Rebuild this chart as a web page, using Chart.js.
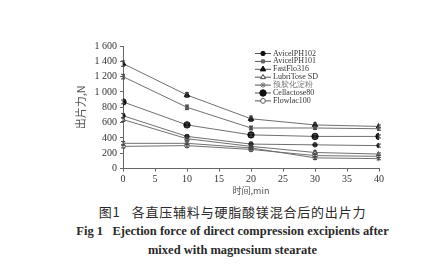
<!DOCTYPE html>
<html><head><meta charset="utf-8">
<script src="https://cdn.jsdelivr.net/npm/chart.js@4.4.0/dist/chart.umd.min.js"></script>
<style>
html,body{margin:0;padding:0;background:#fff;}
#wrap{position:relative;width:441px;height:199px;}
.cap{position:absolute;left:24px;right:0;text-align:center;color:#2a2a2a;white-space:nowrap;}
#c1{top:202px;font:13px "Noto Sans CJK SC";letter-spacing:0.8px;}
#c2{top:224px;font:bold 12.5px "Liberation Serif";}
#c3{top:243px;font:bold 12.5px "Liberation Serif";}
</style></head>
<body>
<div id="wrap"><canvas id="chart"></canvas></div>
<div class="cap" id="c1">图1&nbsp;&nbsp;&nbsp;各直压辅料与硬脂酸镁混合后的出片力</div>
<div class="cap" id="c2">Fig 1&nbsp;&nbsp;&nbsp;Ejection force of direct compression excipients after</div>
<div class="cap" id="c3">mixed with magnesium stearate</div>
<script>
const times=[0,10,20,30,40];
const names=["AvicelPH102","AvicelPH101","FastFlo316","LubriTose SD","预胶化淀粉","Cellactose80","Flowlac100"];
const avicel102=[690,420,320,310,300];
const avicel101=[1200,800,530,530,520];
const fastflo=[1370,960,650,570,550];
const lubritose=[640,390,290,210,190];
const starch=[330,330,270,140,130];
const cellactose=[870,570,440,420,420];
const flowlac=[290,300,250,170,160];
const errs=[[30,25,25,20,20],[30,30,25,20,20],[35,30,35,25,20],[25,20,20,20,15],[25,20,20,20,15],[25,25,20,25,20],[20,20,20,15,15]];

const series=[avicel102,avicel101,fastflo,lubritose,starch,cellactose,flowlac];
const marks=[
 {s:"circle",r:2.2,bg:"#111",bc:"#111"},
 {s:"rect",r:2.2,bg:"#666",bc:"#666"},
 {s:"triangle",r:3.2,bg:"#111",bc:"#111"},
 {s:"triangle",r:2.8,bg:"#fff",bc:"#444"},
 {s:"star",r:2.8,bg:"#777",bc:"#777"},
 {s:"circle",r:3.2,bg:"#111",bc:"#111"},
 {s:"circle",r:2.4,bg:"#fff",bc:"#555"}
];
const datasets=series.map((d,i)=>({
 label:names[i],
 data:d.map((v,j)=>({x:times[j],y:v})),
 errs:errs[i],
 borderColor:"#707070",borderWidth:1,
 pointStyle:marks[i].s,pointRadius:marks[i].r,
 pointBackgroundColor:marks[i].bg,pointBorderColor:marks[i].bc,pointBorderWidth:1,
 tension:0
}));

const errorBars={id:"errorBars",afterDatasetsDraw(chart){
 const ctx=chart.ctx,y=chart.scales.y;
 ctx.save();ctx.strokeStyle="#444";ctx.lineWidth=1;
 chart.data.datasets.forEach((ds,i)=>{
  chart.getDatasetMeta(i).data.forEach((pt,j)=>{
   const v=ds.data[j].y,e=ds.errs[j];
   const t=y.getPixelForValue(v+e),b=y.getPixelForValue(v-e);
   ctx.beginPath();ctx.moveTo(pt.x,t);ctx.lineTo(pt.x,b);
   ctx.moveTo(pt.x-2,t);ctx.lineTo(pt.x+2,t);
   ctx.moveTo(pt.x-2,b);ctx.lineTo(pt.x+2,b);ctx.stroke();
  });
 });
 ctx.restore();
}};

const insideLegend={id:"insideLegend",afterDraw(chart){
 const ctx=chart.ctx,a=chart.chartArea;
 const x0=a.left+132,x1=a.left+148;
 ctx.save();ctx.font="8px 'Liberation Serif'";ctx.textBaseline="middle";
 chart.data.datasets.forEach((ds,i)=>{
  const yy=a.top+7.5+i*7.9;
  ctx.strokeStyle="#555";ctx.lineWidth=1;
  ctx.beginPath();ctx.moveTo(x0,yy);ctx.lineTo(x1,yy);ctx.stroke();
  ctx.fillStyle=ds.pointBackgroundColor;ctx.strokeStyle=ds.pointBorderColor;
  Chart.helpers.drawPoint(ctx,{pointStyle:ds.pointStyle,radius:ds.pointRadius,borderWidth:1,rotation:0},(x0+x1)/2,yy);
  ctx.fillStyle=i===4?"#777":"#333";
  ctx.fillText(ds.label,x1+2,yy);
 });
 ctx.restore();
}};

const tickFont={family:"Liberation Serif",size:10};
new Chart(document.getElementById("chart"),{
 type:"line",
 data:{datasets},
 options:{
  responsive:true,maintainAspectRatio:false,animation:false,
  layout:{padding:{left:74,right:62,top:46,bottom:0}},
  plugins:{legend:{display:false},tooltip:{enabled:false}},
  scales:{
   x:{type:"linear",min:0,max:40,
    ticks:{stepSize:5,color:"#333",font:tickFont,padding:2,maxRotation:0},
    grid:{drawOnChartArea:false,tickLength:3,color:"#666"},
    border:{color:"#666"},
    title:{display:true,text:"时间,min",color:"#555",font:{family:"Noto Sans CJK SC",size:9},padding:{top:0,bottom:3}},
    afterFit:s=>{s.height=30.4;}
   },
   y:{min:0,max:1600,
    ticks:{stepSize:200,color:"#333",font:tickFont,padding:3,
     callback:v=>v>=1000?Math.floor(v/1000)+" "+String(v%1000).padStart(3,"0"):String(v)},
    grid:{drawOnChartArea:false,tickLength:3,color:"#666"},
    border:{color:"#666"},
    title:{display:true,text:"出片力,N",color:"#555",font:{family:"Noto Sans CJK SC",size:11},padding:{top:0,bottom:0}},
    afterFit:s=>{s.width=49;}
   }
  }
 },
 plugins:[errorBars,insideLegend]
});
</script>
</body></html>
